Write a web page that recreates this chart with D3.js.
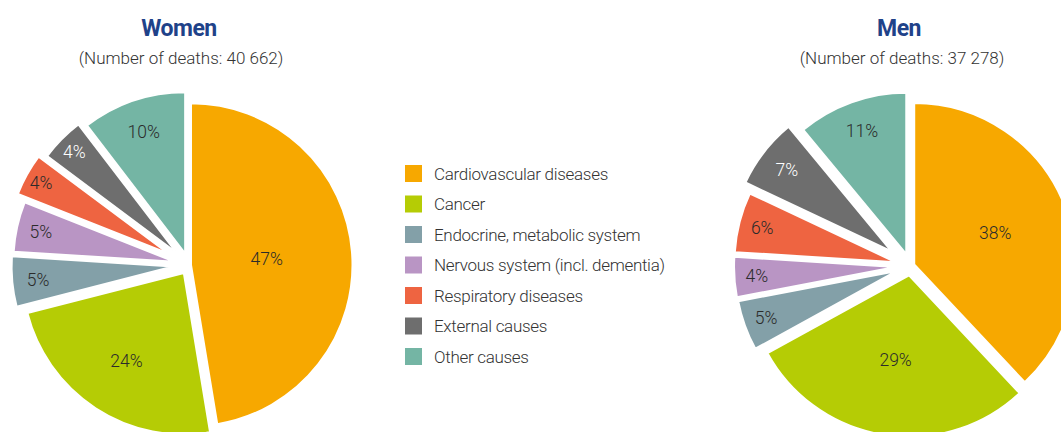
<!DOCTYPE html>
<html>
<head>
<meta charset="utf-8">
<script src="https://cdn.jsdelivr.net/npm/d3@7/dist/d3.min.js"></script>
<style>
  html, body { margin: 0; padding: 0; background: #fff; }
  svg { display: block; font-family: Roboto, "Open Sans", sans-serif; }
</style>
</head>
<body>
<svg id="chart" width="1061" height="432"></svg>
<script>
// ---- Data ----
const categories = [
  "Cardiovascular diseases",
  "Cancer",
  "Endocrine, metabolic system",
  "Nervous system (incl. dementia)",
  "Respiratory diseases",
  "External causes",
  "Other causes"
];
const womenValues = [47.4, 23.6, 5.0, 5.0, 4.2, 4.4, 10.4];
const menValues   = [38, 29, 5, 4, 6, 7, 11];
const womenTitle = "Women";
const menTitle = "Men";
const womenSubtitle = "(Number of deaths: 40 662)";
const menSubtitle = "(Number of deaths: 37 278)";

// ---- Styles / layout ----
const colors = ["#F7A800", "#B5CC05", "#83A0A8", "#B995C4", "#EE6441", "#6E6E6E", "#74B5A4"];
const labelColors = ["#2b2b2b", "#2b2b2b", "#2b2b2b", "#2b2b2b", "#2b2b2b", "#ffffff", "#2b2b2b"];
const R = 161.5;
const layouts = [
  { values: womenValues, title: womenTitle, subtitle: womenSubtitle,
    cx: 189, cy: 265, titleX: 179, subX: 181,
    explode: [2, 9.5, 16, 14.5, 24, 17.5, 12],
    labelFrac: [0.47, 0.65, 0.84, 0.85, 0.9, 0.89, 0.8] },
  { values: menValues, title: menTitle, subtitle: menSubtitle,
    cx: 910.5, cy: 266, titleX: 899, subX: 902,
    explode: [4, 9.5, 14.5, 15, 15, 24, 12.5],
    labelFrac: [0.54, 0.53, 0.86, 0.86, 0.855, 0.82, 0.81] }
];

const svg = d3.select("#chart");
const pie = d3.pie().sort(null).value(d => d);
const arc = d3.arc().innerRadius(0).outerRadius(R);
const color = d3.scaleOrdinal().domain(categories).range(colors);

layouts.forEach(L => {
  const arcs = pie(L.values);
  const g = svg.append("g").attr("transform", `translate(${L.cx},${L.cy})`);
  const slice = g.selectAll("g.slice").data(arcs).enter().append("g")
    .attr("class", "slice")
    .attr("transform", (d, i) => {
      const m = (d.startAngle + d.endAngle) / 2;
      const e = L.explode[i];
      return `translate(${e * Math.sin(m)},${-e * Math.cos(m)})`;
    });
  slice.append("path")
    .attr("d", arc)
    .attr("fill", (d, i) => color(categories[i]))
    .attr("stroke", "#fff")
    .attr("stroke-width", 2)
    .attr("stroke-linejoin", "round");
  slice.append("text")
    .attr("x", (d, i) => { const m = (d.startAngle + d.endAngle) / 2; return L.labelFrac[i] * R * Math.sin(m); })
    .attr("y", (d, i) => { const m = (d.startAngle + d.endAngle) / 2; return -L.labelFrac[i] * R * Math.cos(m); })
    .attr("dy", "0.36em")
    .attr("text-anchor", "middle")
    .attr("font-size", 17.5)
    .attr("font-weight", 300)
    .attr("fill", (d, i) => labelColors[i])
    .text(d => Math.round(d.data) + "%");

  svg.append("text")
    .attr("x", L.titleX).attr("y", 36)
    .attr("text-anchor", "middle")
    .attr("font-size", 23).attr("font-weight", 700)
    .attr("fill", "#1F4289")
    .attr("letter-spacing", "-0.5")
    .text(L.title);
  svg.append("text")
    .attr("x", L.subX).attr("y", 64)
    .attr("text-anchor", "middle")
    .attr("font-size", 17).attr("font-weight", 300)
    .attr("fill", "#333")
    .text(L.subtitle);
});

// ---- Legend ----
const legend = svg.append("g").attr("transform", "translate(405,165)");
const rowStep = 30.5;
const item = legend.selectAll("g").data(categories).enter().append("g")
  .attr("transform", (d, i) => `translate(0,${i * rowStep})`);
item.append("rect").attr("width", 17).attr("height", 17).attr("fill", d => color(d));
item.append("text")
  .attr("x", 29).attr("y", 8.5).attr("dy", "0.36em")
  .attr("font-size", 17).attr("font-weight", 300)
  .attr("fill", "#333")
  .attr("letter-spacing", "-0.3")
  .text(d => d);
</script>
</body>
</html>
